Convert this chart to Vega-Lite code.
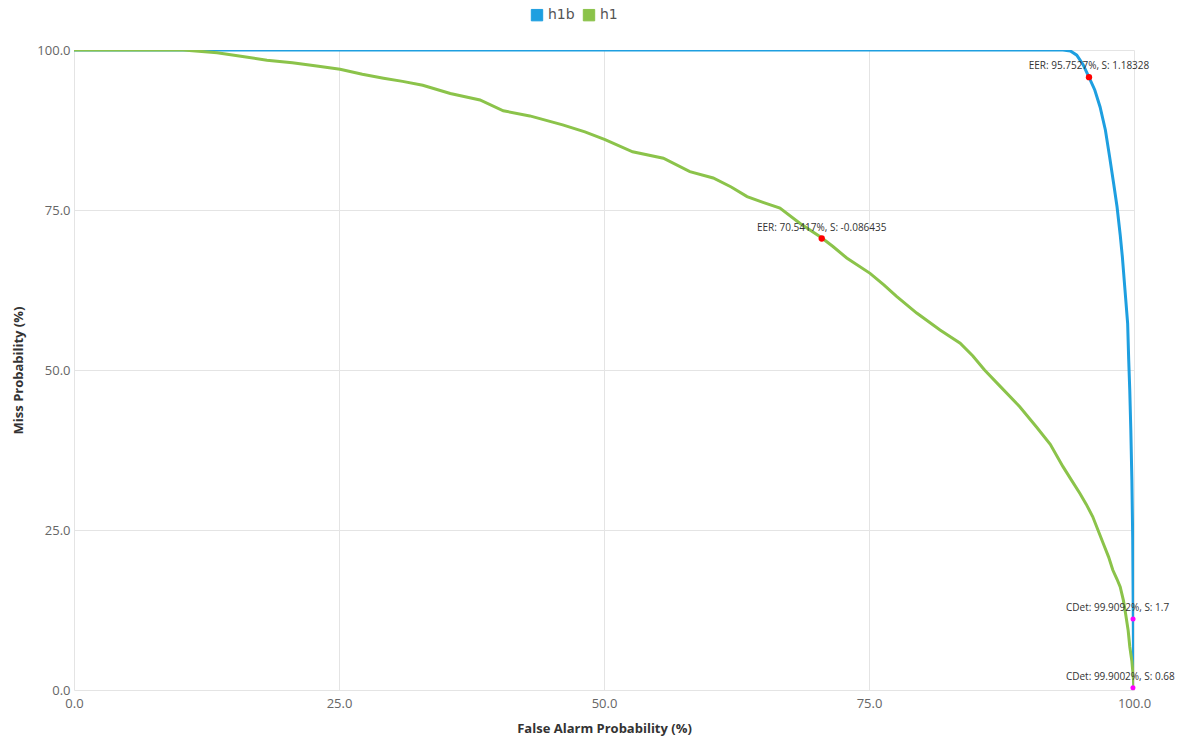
{
  "$schema": "https://vega.github.io/schema/vega-lite/v6.json",
  "width": 1060,
  "height": 640,
  "padding": {"left": 74, "top": 50, "right": 50, "bottom": 48},
  "autosize": {"type": "none"},
  "background": "#ffffff",
  "config": {
    "view": {"stroke": null},
    "font": "Open Sans",
    "axis": {
      "grid": true,
      "gridColor": "#e4e4e4",
      "gridWidth": 1,
      "domain": false,
      "ticks": false,
      "labelFlush": false,
      "labelColor": "#666666",
      "labelFontSize": 13,
      "labelFont": "Open Sans",
      "titleColor": "#333333",
      "titleFontSize": 13,
      "titleFontWeight": "bold",
      "titleFont": "Open Sans"
    }
  },
  "datasets": {
    "curves": [
      {"series": "h1b", "fa": 0, "miss": 100},
      {"series": "h1b", "fa": 93.3, "miss": 100},
      {"series": "h1b", "fa": 94.0, "miss": 99.85},
      {"series": "h1b", "fa": 94.6, "miss": 99.2},
      {"series": "h1b", "fa": 95.2, "miss": 97.7},
      {"series": "h1b", "fa": 95.75, "miss": 95.75},
      {"series": "h1b", "fa": 96.3, "miss": 93.75},
      {"series": "h1b", "fa": 96.8, "miss": 91.1},
      {"series": "h1b", "fa": 97.3, "miss": 87.5},
      {"series": "h1b", "fa": 97.7, "miss": 83.3},
      {"series": "h1b", "fa": 98.1, "miss": 78.9},
      {"series": "h1b", "fa": 98.4, "miss": 75.5},
      {"series": "h1b", "fa": 98.7, "miss": 71.1},
      {"series": "h1b", "fa": 98.9, "miss": 67.7},
      {"series": "h1b", "fa": 99.15, "miss": 62.5},
      {"series": "h1b", "fa": 99.4, "miss": 57.3},
      {"series": "h1b", "fa": 99.5, "miss": 51.6},
      {"series": "h1b", "fa": 99.6, "miss": 46.9},
      {"series": "h1b", "fa": 99.7, "miss": 40.6},
      {"series": "h1b", "fa": 99.8, "miss": 32.8},
      {"series": "h1b", "fa": 99.88, "miss": 23.4},
      {"series": "h1b", "fa": 99.92, "miss": 14.1},
      {"series": "h1b", "fa": 99.95, "miss": 6.25},
      {"series": "h1b", "fa": 100, "miss": 0},
      {"series": "h1", "fa": 0, "miss": 100},
      {"series": "h1", "fa": 10.3, "miss": 100},
      {"series": "h1", "fa": 13.5, "miss": 99.58},
      {"series": "h1", "fa": 15.9, "miss": 99.0},
      {"series": "h1", "fa": 18.2, "miss": 98.4},
      {"series": "h1", "fa": 20.6, "miss": 98.0},
      {"series": "h1", "fa": 22.9, "miss": 97.5},
      {"series": "h1", "fa": 25.1, "miss": 96.98},
      {"series": "h1", "fa": 27.2, "miss": 96.2},
      {"series": "h1", "fa": 29.2, "miss": 95.6},
      {"series": "h1", "fa": 31.0, "miss": 95.1},
      {"series": "h1", "fa": 32.9, "miss": 94.5},
      {"series": "h1", "fa": 35.5, "miss": 93.2},
      {"series": "h1", "fa": 38.3, "miss": 92.2},
      {"series": "h1", "fa": 40.5, "miss": 90.5},
      {"series": "h1", "fa": 43.0, "miss": 89.7},
      {"series": "h1", "fa": 46.1, "miss": 88.3},
      {"series": "h1", "fa": 48.2, "miss": 87.2},
      {"series": "h1", "fa": 50.1, "miss": 86.0},
      {"series": "h1", "fa": 52.7, "miss": 84.1},
      {"series": "h1", "fa": 55.6, "miss": 83.1},
      {"series": "h1", "fa": 58.1, "miss": 81.0},
      {"series": "h1", "fa": 60.3, "miss": 80.0},
      {"series": "h1", "fa": 62.0, "miss": 78.6},
      {"series": "h1", "fa": 63.5, "miss": 77.1},
      {"series": "h1", "fa": 65.0, "miss": 76.2},
      {"series": "h1", "fa": 66.6, "miss": 75.3},
      {"series": "h1", "fa": 68.5, "miss": 72.9},
      {"series": "h1", "fa": 70.5, "miss": 70.7},
      {"series": "h1", "fa": 71.6, "miss": 69.3},
      {"series": "h1", "fa": 72.9, "miss": 67.5},
      {"series": "h1", "fa": 75.1, "miss": 65.1},
      {"series": "h1", "fa": 76.4, "miss": 63.3},
      {"series": "h1", "fa": 77.6, "miss": 61.5},
      {"series": "h1", "fa": 79.5, "miss": 58.9},
      {"series": "h1", "fa": 81.7, "miss": 56.25},
      {"series": "h1", "fa": 83.6, "miss": 54.2},
      {"series": "h1", "fa": 84.8, "miss": 52.2},
      {"series": "h1", "fa": 85.9, "miss": 50.0},
      {"series": "h1", "fa": 87.4, "miss": 47.4},
      {"series": "h1", "fa": 89.2, "miss": 44.3},
      {"series": "h1", "fa": 90.8, "miss": 41.1},
      {"series": "h1", "fa": 92.1, "miss": 38.4},
      {"series": "h1", "fa": 93.3, "miss": 34.9},
      {"series": "h1", "fa": 94.1, "miss": 32.8},
      {"series": "h1", "fa": 94.9, "miss": 30.7},
      {"series": "h1", "fa": 95.5, "miss": 29.0},
      {"series": "h1", "fa": 96.1, "miss": 27.1},
      {"series": "h1", "fa": 96.6, "miss": 25.0},
      {"series": "h1", "fa": 97.1, "miss": 22.9},
      {"series": "h1", "fa": 97.6, "miss": 20.8},
      {"series": "h1", "fa": 98.0, "miss": 18.75},
      {"series": "h1", "fa": 98.4, "miss": 17.3},
      {"series": "h1", "fa": 98.7, "miss": 16.1},
      {"series": "h1", "fa": 99.0, "miss": 14.0},
      {"series": "h1", "fa": 99.2, "miss": 12.0},
      {"series": "h1", "fa": 99.45, "miss": 9.3},
      {"series": "h1", "fa": 99.6, "miss": 6.8},
      {"series": "h1", "fa": 99.8, "miss": 4.5},
      {"series": "h1", "fa": 99.9, "miss": 2.6},
      {"series": "h1", "fa": 100, "miss": 0.5},
      {"series": "h1", "fa": 100, "miss": 0}
    ],
    "marks": [
      {"kind": "EER", "fa": 95.7527, "miss": 95.7527, "label": "EER: 95.7527%, S: 1.18328"},
      {"kind": "EER", "fa": 70.5417, "miss": 70.5417, "label": "EER: 70.5417%, S: -0.086435"},
      {"kind": "CDet", "fa": 99.9092, "miss": 11.1, "label": "CDet: 99.9092%, S: 1.7"},
      {"kind": "CDet", "fa": 99.9002, "miss": 0.36, "label": "CDet: 99.9002%, S: 0.68"}
    ]
  },
  "encoding": {
    "x": {
      "field": "fa",
      "type": "quantitative",
      "scale": {"domain": [0, 100], "nice": false, "zero": false},
      "axis": {"values": [0, 25, 50, 75, 100], "format": ".1f", "title": "False Alarm Probability (%)", "labelPadding": 7, "titlePadding": 12}
    },
    "y": {
      "field": "miss",
      "type": "quantitative",
      "scale": {"domain": [0, 100], "nice": false, "zero": false},
      "axis": {"values": [0, 25, 50, 75, 100], "format": ".1f", "title": "Miss Probability (%)", "labelPadding": 4, "titlePadding": 11}
    }
  },
  "layer": [
    {
      "data": {"name": "curves"},
      "transform": [{"filter": "datum.series === 'h1b'"}],
      "mark": {"type": "line", "strokeWidth": 3, "clip": true},
      "encoding": {
        "color": {
          "field": "series",
          "type": "nominal",
          "scale": {"domain": ["h1b", "h1"], "range": ["#1e9fe0", "#8bc34a"]},
          "legend": {
            "title": null,
            "orient": "none",
            "legendX": 456,
            "legendY": -42,
            "direction": "horizontal",
            "symbolType": "square",
            "symbolSize": 130,
            "symbolStrokeColor": "#333333",
            "symbolStrokeWidth": 1,
            "labelFontSize": 14,
            "labelColor": "#555555",
            "labelFont": "DejaVu Sans",
            "labelOffset": 4,
            "columnPadding": 6,
            "encode": {
              "symbols": {
                "update": {
                  "fill": {"scale": "color", "field": "value"},
                  "fillOpacity": {"value": 1},
                  "stroke": {"value": "#333333"},
                  "strokeWidth": {"value": 1}
                }
              }
            }
          }
        }
      }
    },
    {
      "data": {"name": "curves"},
      "transform": [{"filter": "datum.series === 'h1'"}],
      "mark": {"type": "line", "strokeWidth": 3, "clip": true},
      "encoding": {
        "color": {"field": "series", "type": "nominal"}
      }
    },
    {
      "data": {"name": "marks"},
      "transform": [{"filter": "datum.kind === 'EER'"}],
      "mark": {"type": "circle", "color": "#ff0000", "opacity": 1, "size": 40},
      "encoding": {}
    },
    {
      "data": {"name": "marks"},
      "transform": [{"filter": "datum.kind === 'CDet'"}],
      "mark": {"type": "circle", "color": "#ff00ff", "opacity": 1, "size": 25},
      "encoding": {}
    },
    {
      "data": {"name": "marks"},
      "transform": [{"filter": "datum.kind === 'EER'"}],
      "mark": {"type": "text", "align": "center", "baseline": "middle", "dy": -11, "fontSize": 10, "color": "#333333", "font": "Open Sans"},
      "encoding": {"text": {"field": "label"}}
    },
    {
      "data": {"name": "marks"},
      "transform": [{"filter": "datum.kind === 'CDet'"}],
      "mark": {"type": "text", "align": "left", "baseline": "middle", "dx": -67, "dy": -11, "fontSize": 10, "color": "#333333", "font": "Open Sans"},
      "encoding": {"text": {"field": "label"}}
    }
  ]
}
